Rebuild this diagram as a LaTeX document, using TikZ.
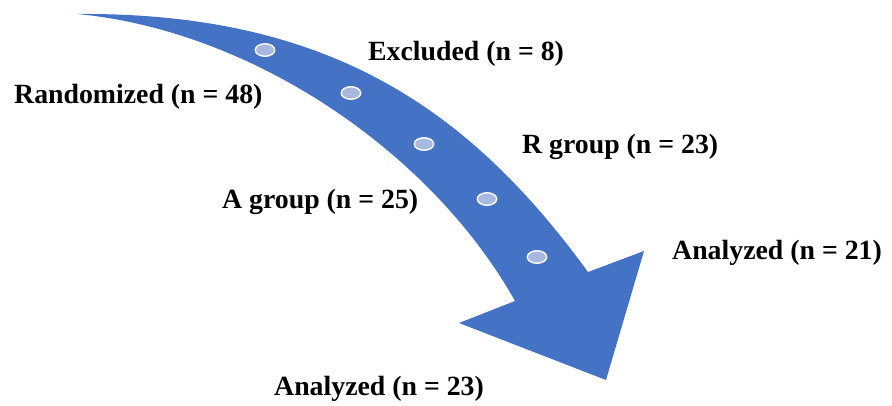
\documentclass[tikz,border=0pt]{standalone}
\usepackage{fontspec}
\setmainfont{Liberation Serif}
\usetikzlibrary{shapes.geometric}
\definecolor{arrowblue}{HTML}{4472C4}
\definecolor{dotblue}{HTML}{A9B8E0}
\begin{document}
\begin{tikzpicture}[x=1pt,y=-1pt,
  lbl/.style={font=\fontsize{27.8}{30}\selectfont\bfseries, inner sep=0pt, anchor=base west},
  dot/.style={ellipse, draw=white, line width=1.4pt, fill=dotblue, minimum width=19.5pt, minimum height=12.5pt, inner sep=0pt}]
\useasboundingbox (0,0) rectangle (892,405);
% big curved arrow
\fill[arrowblue] (77,14) .. controls (330,12) and (470,110) .. (588,272)
  -- (644,251) -- (606,380) -- (459,323) -- (515,301)
  .. controls (430,150) and (250,30) .. (77,14) -- cycle;
% dots
\node[dot] (d1) at (265,50) {};
\node[dot] (d2) at (351,93) {};
\node[dot] (d3) at (424,144) {};
\node[dot] (d4) at (487,199) {};
\node[dot] (d5) at (537,257) {};
% labels
\node[lbl] (ex) at (368,60) {Excluded (n = 8)};
\node[lbl] (ra) at (14,103) {Randomized (n = 48)};
\node[lbl] (rg) at (522,153) {R group (n = 23)};
\node[lbl] (ag) at (222,208) {A group (n = 25)};
\node[lbl] (an1) at (672,259) {Analyzed (n = 21)};
\node[lbl] (an2) at (274,395) {Analyzed (n = 23)};
\end{tikzpicture}
\end{document}
